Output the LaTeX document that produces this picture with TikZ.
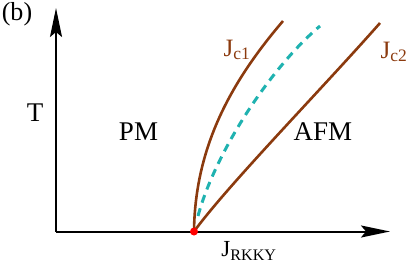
\documentclass[tikz,border=0pt]{standalone}
\usepackage{fontspec}
\setmainfont{Liberation Serif}
\usetikzlibrary{arrows.meta,positioning}
\definecolor{bark}{HTML}{8B3A0E}
\definecolor{teal}{HTML}{1FB2B0}

\begin{document}
\begin{tikzpicture}[x=1pt,y=1pt,
   ax/.style={-{Stealth[length=29pt,width=12pt,inset=5pt]},line width=2pt,black},
   cv/.style={line width=2.6pt,bark},
   lb/.style={font=\fontsize{27}{30}\selectfont},
   jl/.style={font=\fontsize{25}{28}\selectfont,text=bark}]
  \useasboundingbox (0,0) rectangle (409,263);
  \coordinate (o) at (56,31.5);
  \coordinate (yt) at (56,255);
  \coordinate (xt) at (390,31.5);
  \coordinate (q) at (194,31.5);
  \coordinate (c1) at (283,242);
  \coordinate (c2) at (380,240);
  % axes
  \draw[ax] (o) -- (yt);
  \draw[ax] (o) -- (xt);
  % phase boundaries
  \draw[cv] (q) .. controls (195,115) and (230,180) .. (c1);
  \draw[cv] (q) .. controls (228,78) and (320,172) .. (c2);
  \draw[teal,line width=3pt,dash pattern=on 8pt off 6pt] (198,47) .. controls (215,110) and (270,195) .. (320,237);
  \fill[red] (q) circle (4pt);
  % labels
  \node[lb,font=\fontsize{26}{30}\selectfont] (b) at (17,249) {(b)};
  \node[lb] (t) at (35,150) {T};
  \node[lb] (pm) at (138.5,131) {PM};
  \node[lb] (afm) at (323,131) {AFM};
  \node[jl] (jc1) at (237,213) {J\textsubscript{c1}};
  \node[jl] (jc2) at (394,211) {J\textsubscript{c2}};
  \node[jl,font=\fontsize{23}{26}\selectfont,text=black] (jr) at (249,12) {J\textsubscript{RKKY}};
\end{tikzpicture}
\end{document}
